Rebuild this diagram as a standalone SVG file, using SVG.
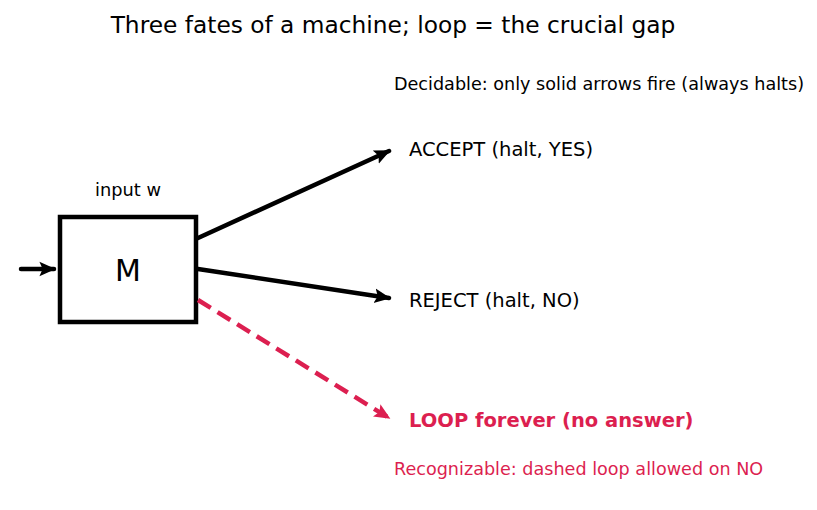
<svg xmlns="http://www.w3.org/2000/svg" width="817" height="510" viewBox="0 0 817 510">
<style>
text{font-family:"DejaVu Sans","Liberation Sans",sans-serif;fill:#000}
.red{fill:#dc1f50}
.edge{stroke:#000;stroke-width:4.5;fill:none;stroke-linecap:round}
.dash{stroke:#dc1f50;stroke-width:4.5;fill:none;stroke-dasharray:15 8}
</style>
<defs>
<marker id="ah" viewBox="0 0 10 10" refX="9" refY="5" markerWidth="3.6" markerHeight="3.6" orient="auto" markerUnits="strokeWidth"><path d="M0,0.5 L10,5 L0,9.5 L2,5 z" fill="#000"/></marker>
<marker id="ahr" viewBox="0 0 10 10" refX="9" refY="5" markerWidth="3.6" markerHeight="3.6" orient="auto" markerUnits="strokeWidth"><path d="M0,0.5 L10,5 L0,9.5 L2,5 z" fill="#dc1f50"/></marker>
</defs>
<rect width="817" height="510" fill="#fff"/>
<text x="393" y="33" font-size="23.3" text-anchor="middle">Three fates of a machine; loop = the crucial gap</text>
<text x="394" y="90" font-size="17.6">Decidable: only solid arrows fire (always halts)</text>
<g id="machine">
<rect x="60" y="217" width="136" height="105" fill="#fff" stroke="#000" stroke-width="4.5"/>
<text x="128" y="281" font-size="30" text-anchor="middle">M</text>
<text x="128" y="196" font-size="17.8" text-anchor="middle">input w</text>
</g>
<g id="accept"><text x="409" y="156" font-size="19.5">ACCEPT (halt, YES)</text></g>
<g id="reject"><text x="409" y="307" font-size="19.5">REJECT (halt, NO)</text></g>
<g id="loop"><text x="409" y="427" font-size="19.5" font-weight="bold" class="red">LOOP forever (no answer)</text></g>
<text x="394" y="475" font-size="17.6" class="red">Recognizable: dashed loop allowed on NO</text>
<g id="connectors">
<line class="edge" x1="21" y1="269" x2="54" y2="269" marker-end="url(#ah)"/>
<line class="edge" x1="198" y1="238" x2="389" y2="151" marker-end="url(#ah)"/>
<line class="edge" x1="198" y1="269" x2="389" y2="298" marker-end="url(#ah)"/>
<line class="dash" x1="198" y1="300" x2="389" y2="418" marker-end="url(#ahr)"/>
</g>
</svg>
